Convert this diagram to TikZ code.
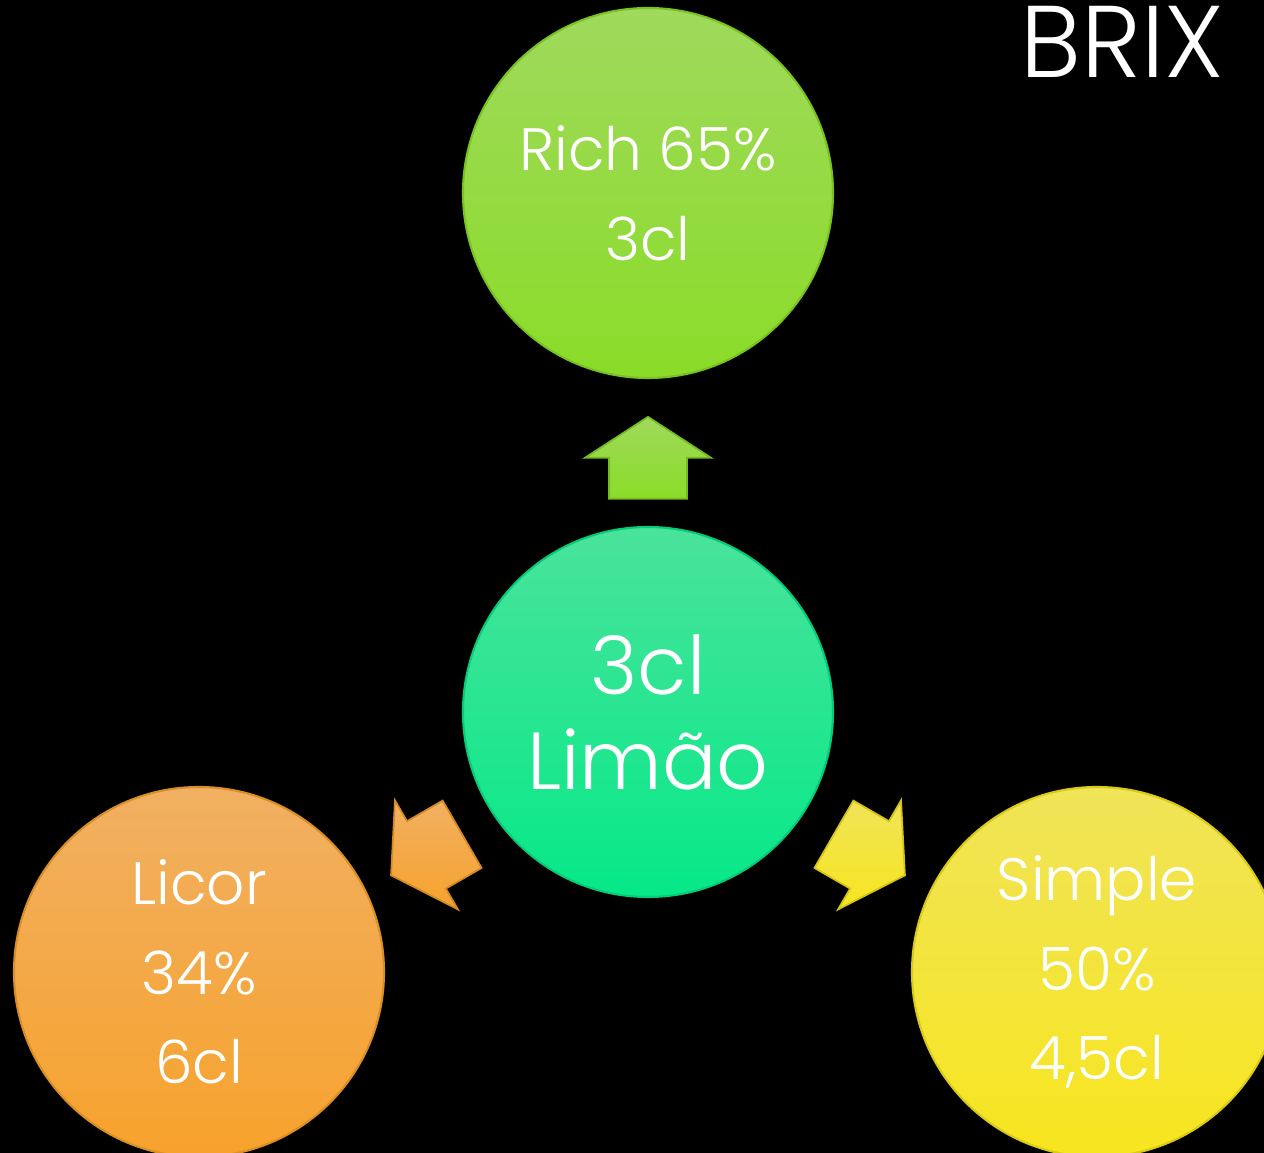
\documentclass[tikz,border=0pt]{standalone}
\usepackage{fontspec}
\IfFontExistsTF{Poppins Light}{\setmainfont{Poppins Light}}{\setmainfont{Poppins}}
\usetikzlibrary{shapes.arrows,calc}

\definecolor{richtop}{HTML}{A0D95C}
\definecolor{richbot}{HTML}{8ADC28}
\definecolor{limaotop}{HTML}{4AE39C}
\definecolor{limaobot}{HTML}{06E888}
\definecolor{licortop}{HTML}{F1B062}
\definecolor{licorbot}{HTML}{F7A22C}
\definecolor{simpletop}{HTML}{F0E458}
\definecolor{simplebot}{HTML}{F7E51E}

\begin{document}
\begin{tikzpicture}[
    bubble/.style={circle, minimum size=3.7cm, inner sep=0pt, text=white, align=center,
        font=\fontsize{17}{25.5}\selectfont, draw=#1bot!88!black, line width=0.6pt,
        top color=#1top, bottom color=#1bot},
    flow/.style={single arrow, minimum height=0.82cm, inner xsep=0pt, inner ysep=0.38cm,
        single arrow head extend=0.24cm, single arrow tip angle=114,
        draw=#1bot!85!black, line width=0.5pt, top color=#1top, bottom color=#1bot}
]

    \fill[black] (0,0) rectangle (12.64,-11.53);
    \useasboundingbox (0,0) rectangle (12.64,-11.53);
    \clip (0,0) rectangle (12.64,-11.53);

    \node[anchor=base west, text=white, font=\fontsize{29}{30}\selectfont] (brix) at (10.08,-0.78) {BRIX};


    \node[bubble=rich] (rich) at (6.48,-1.93) {Rich 65\%\\3cl};
    \node[bubble=limao, font=\fontsize{23}{27}\selectfont] (limao) at (6.48,-7.12) {3cl\\Limão};
    \node[bubble=licor] (licor) at (1.99,-9.72) {Licor\\34\%\\6cl};
    \node[bubble=simple] (simple) at (10.97,-9.72) {Simple\\50\%\\4,5cl};


    \node[flow=rich, rotate=90] (uparrow) at ($(limao)!0.5!(rich)+(0,-0.18)$) {};
    \node[flow=licor, rotate=210] (leftarrow) at ($(limao)!0.5!(licor)+(0.14,-0.065)$) {};
    \node[flow=simple, rotate=-30] (rightarrow) at ($(limao)!0.5!(simple)+(-0.14,-0.065)$) {};

\end{tikzpicture}
\end{document}
